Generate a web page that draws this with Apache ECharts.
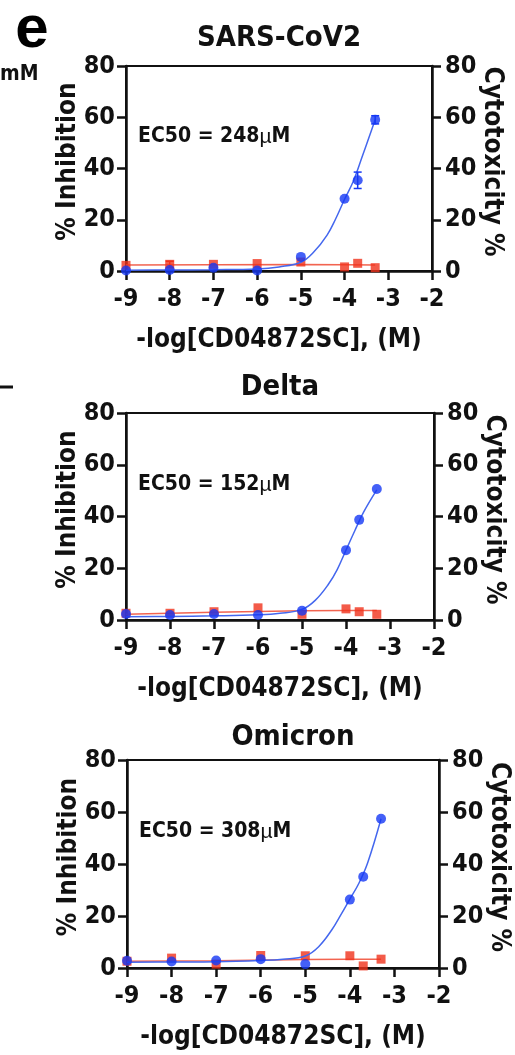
<!DOCTYPE html>
<html>
<head>
<meta charset="utf-8">
<script src="https://cdn.jsdelivr.net/npm/echarts@6/dist/echarts.min.js"></script>
<style>
  html, body { margin: 0; padding: 0; background: #fff; }
  #main { width: 515px; height: 1055px; }
</style>
</head>
<body>
<div id="main"></div>
<script>
// doses, log[M]
var doses = [-9, -8, -7, -6, -5, -4, -3.7, -3.3];
var panelNames = ['SARS-CoV2', 'Delta', 'Omicron'];
var ec50Values = ['248', '152', '308'];

// % inhibition (blue dots)
var inhibWT = [0.2, 0.4, 1.3, 0.2, 5.5, 28.2, 35.4, 59.0];
var inhibDelta = [2.3, 1.9, 2.3, 1.9, 3.6, 27.0, 38.7, 50.6];
var inhibOmicron = [2.8, 2.5, 2.9, 3.4, 1.5, 26.3, 35.1, 57.4];
var inhibErrWT = [0, 0, 0, 0, 0, 0, 3.2, 1.6];

// cytotoxicity % (red squares)
var cytoWT = [2.2, 2.6, 2.6, 2.9, 3.5, 1.6, 3.0, 1.3];
var cytoDelta = [2.6, 2.6, 3.2, 4.7, 2.2, 4.3, 3.2, 2.2];
var cytoOmicron = [2.6, 3.8, 1.5, 4.8, 4.7, 4.7, 0.8, 3.4];
var cytoErrWT = [0, 1.2, 0, 0, 0, 0, 0, 0];

// fitted curves
var fitX = [-9, -8, -7, -6, -5.5, -5, -4.7, -4.4, -4.2, -4, -3.8, -3.6, -3.3];
var fitWT = [0.3, 0.4, 0.5, 0.8, 1.6, 3.4, 7.5, 14, 20.5, 28, 35, 44.5, 59];
var fitDelta = [1.3, 1.4, 1.6, 2.0, 2.6, 4.1, 7.6, 13.8, 19.5, 27, 34.5, 41.7, 50.3];
var fitOmicron = [2.2, 2.3, 2.4, 2.9, 3.4, 4.6, 8.2, 14.8, 20.5, 26.5, 32.5, 40.5, 57.4];

var cytoFitX = [-9, -7, -5, -4, -3.3];
var cytoFitWT = [2.3, 2.4, 2.5, 2.4, 2.3];
var cytoFitDelta = [2.2, 3.0, 3.6, 3.7, 3.7];
var cytoFitOmicron = [2.6, 2.8, 3.3, 3.4, 3.4];

var xMin = -9, xMax = -2, xStep = 1;
var yMin = 0, yMax = 80, yStep = 20;

var inhib = [inhibWT, inhibDelta, inhibOmicron];
var inhibErr = [inhibErrWT, null, null];
var cyto = [cytoWT, cytoDelta, cytoOmicron];
var cytoErr = [cytoErrWT, null, null];
var fits = [fitWT, fitDelta, fitOmicron];
var cytoFits = [cytoFitWT, cytoFitDelta, cytoFitOmicron];

var FONT = "'DejaVu Sans Condensed', 'Liberation Sans', Arial, sans-serif";
var INK = '#111';
var BLUE = '#1538f5';
var BLUE_LINE = '#4467ee';
var RED = '#f0321c';
var RED_LINE = '#f26450';

// grid boxes (px)
var grids = [
  { left: 126, top: 66, width: 306, height: 205 },
  { left: 126, top: 413, width: 308, height: 207 },
  { left: 127, top: 760, width: 312, height: 208 }
];
var titlePos = [[279, 38], [280, 387], [293, 737]];
var ec50Pos = [[138, 137], [138, 485], [139, 832]];

function zip(xs, ys) {
  return xs.map(function (x, k) { return [x, ys[k]]; });
}

function errData(ys, errs) {
  var out = [];
  if (!errs) return out;
  doses.forEach(function (x, k) {
    if (errs[k] > 0) out.push([x, ys[k], errs[k]]);
  });
  return out;
}

function errorBars(color) {
  return function (params, api) {
    var x = api.value(0), y = api.value(1), e = api.value(2);
    var hi = api.coord([x, y + e]);
    var lo = api.coord([x, y - e]);
    var hw = 4;
    var st = { stroke: color, lineWidth: 1.5 };
    return {
      type: 'group',
      children: [
        { type: 'line', shape: { x1: hi[0], y1: hi[1], x2: lo[0], y2: lo[1] }, style: st },
        { type: 'line', shape: { x1: hi[0] - hw, y1: hi[1], x2: hi[0] + hw, y2: hi[1] }, style: st },
        { type: 'line', shape: { x1: lo[0] - hw, y1: lo[1], x2: lo[0] + hw, y2: lo[1] }, style: st }
      ]
    };
  };
}

var axisLine = { show: true, onZero: false, lineStyle: { color: INK, width: 2.5 } };
var axisTick = { show: true, length: 9, lineStyle: { color: INK, width: 2.5 } };
var tickFont = { fontFamily: FONT, fontWeight: 'bold', fontSize: 25, color: INK };
var nameFont = { fontFamily: FONT, fontWeight: 'bold', fontSize: 26, color: INK };

var xAxes = [], yAxes = [], series = [], graphics = [];

grids.forEach(function (g, i) {
  xAxes.push({
    gridIndex: i, type: 'value', min: xMin, max: xMax, interval: xStep,
    name: '-log[CD04872SC], (M)', nameLocation: 'middle', nameGap: 56,
    nameMoveOverlap: false,
    nameTextStyle: nameFont,
    axisLine: axisLine, axisTick: axisTick,
    axisLabel: Object.assign({ margin: 16 }, tickFont),
    splitLine: { show: false }
  });
  yAxes.push({
    gridIndex: i, type: 'value', position: 'left', min: yMin, max: yMax, interval: yStep,
    name: '% Inhibition', nameLocation: 'middle', nameGap: 45, nameRotate: 90,
    nameMoveOverlap: false,
    nameTextStyle: Object.assign({ padding: [0, 0, 0, 14] }, nameFont),
    axisLine: axisLine, axisTick: axisTick,
    axisLabel: Object.assign({ margin: 11 }, tickFont),
    splitLine: { show: false }
  });
  yAxes.push({
    gridIndex: i, type: 'value', position: 'right', min: yMin, max: yMax, interval: yStep,
    name: 'Cytotoxicity %', nameLocation: 'middle', nameGap: 47, nameRotate: -90,
    nameMoveOverlap: false,
    nameTextStyle: Object.assign({ padding: [0, 14, 0, 0] }, nameFont),
    axisLine: axisLine, axisTick: axisTick,
    axisLabel: Object.assign({ margin: 13 }, tickFont),
    splitLine: { show: false }
  });

  // cytotoxicity (right axis)
  series.push({
    type: 'line', xAxisIndex: i, yAxisIndex: 2 * i + 1,
    data: zip(cytoFitX, cytoFits[i]), showSymbol: false, clip: false,
    lineStyle: { color: RED_LINE, width: 1.5 }, z: 3
  });
  series.push({
    type: 'custom', xAxisIndex: i, yAxisIndex: 2 * i + 1,
    data: errData(cyto[i], cytoErr[i]), renderItem: errorBars(RED), z: 4
  });
  series.push({
    type: 'scatter', xAxisIndex: i, yAxisIndex: 2 * i + 1,
    data: zip(doses, cyto[i]), symbol: 'rect', symbolSize: 9, clip: false,
    itemStyle: { color: RED }, z: 4
  });

  // inhibition (left axis)
  series.push({
    type: 'line', xAxisIndex: i, yAxisIndex: 2 * i, smooth: 0.4,
    data: zip(fitX, fits[i]), showSymbol: false, clip: false,
    lineStyle: { color: BLUE_LINE, width: 1.5 }, z: 5
  });
  series.push({
    type: 'custom', xAxisIndex: i, yAxisIndex: 2 * i,
    data: errData(inhib[i], inhibErr[i]), renderItem: errorBars(BLUE), z: 6
  });
  series.push({
    type: 'scatter', xAxisIndex: i, yAxisIndex: 2 * i,
    data: zip(doses, inhib[i]), symbol: 'circle', symbolSize: 10, clip: false,
    itemStyle: { color: BLUE }, z: 6
  });

  graphics.push({
    type: 'text', x: titlePos[i][0], y: titlePos[i][1],
    style: { text: panelNames[i], font: 'bold 29px ' + FONT, fill: INK,
             textAlign: 'center', textVerticalAlign: 'middle' }
  });
  graphics.push({
    type: 'text', x: ec50Pos[i][0], y: ec50Pos[i][1],
    style: {
      text: '{a|EC50 = ' + ec50Values[i] + '}{b|\u00b5}{a|M}',
      textVerticalAlign: 'middle',
      rich: {
        a: { fontFamily: FONT, fontWeight: 'bold', fontSize: 21, fill: INK, color: INK },
        b: { fontFamily: "'Liberation Sans', Arial, sans-serif", fontSize: 21, fill: INK, color: INK }
      }
    }
  });
});

// fragments of neighbouring panels
graphics.push({
  type: 'text', x: 32, y: 30,
  style: { text: 'e', font: 'bold 60px Liberation Sans, Arial, sans-serif', fill: '#000',
           textAlign: 'center', textVerticalAlign: 'middle' }
});
graphics.push({
  type: 'text', x: 0, y: 75,
  style: { text: 'mM', font: 'bold 21px ' + FONT, fill: INK, textVerticalAlign: 'middle' }
});
graphics.push({
  type: 'line', shape: { x1: 0, y1: 387, x2: 13, y2: 387 },
  style: { stroke: INK, lineWidth: 3 }
});

var chart = echarts.init(document.getElementById('main'));
chart.setOption({
  animation: false,
  backgroundColor: '#fff',
  grid: grids.map(function (g) {
    return { left: g.left, top: g.top, width: g.width, height: g.height,
             show: true, borderColor: INK, borderWidth: 2,
             containLabel: false, outerBoundsMode: 'none' };
  }),
  xAxis: xAxes,
  yAxis: yAxes,
  series: series,
  graphic: graphics
});
</script>
</body>
</html>
